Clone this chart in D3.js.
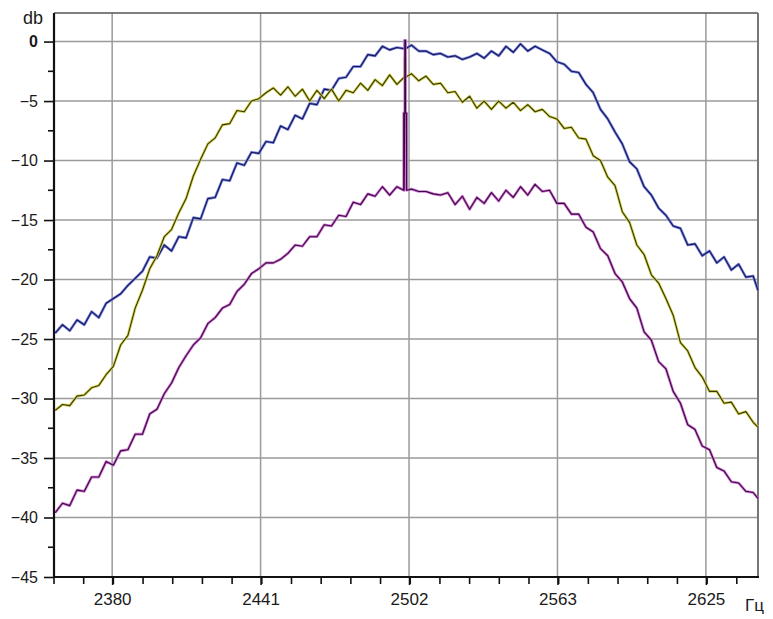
<!DOCTYPE html>
<html>
<head>
<meta charset="utf-8">
<script src="https://cdn.jsdelivr.net/npm/d3@7"></script>
<style>
  body { margin: 0; background: #fff; }
  svg { display: block; font-family: "Liberation Sans", Arial, sans-serif; }
</style>
</head>
<body>
<svg></svg>
<script>
// spectrum, three traces (db vs Hz)

// frequency grid of the traces (Hz)
var freqs = [2356, 2359, 2362, 2365, 2368, 2371, 2374, 2377, 2380, 2383, 2386, 2389, 2392, 2395, 2398,
  2401, 2404, 2407, 2410, 2413, 2416, 2419, 2422, 2425, 2428, 2431, 2434, 2437, 2440, 2443, 2446, 2449,
  2452, 2455, 2458, 2461, 2464, 2467, 2470, 2473, 2476, 2479, 2482, 2485, 2488, 2491, 2494, 2497, 2500,
  2503, 2506, 2509, 2512, 2515, 2518, 2521, 2524, 2527, 2530, 2533, 2536, 2539, 2542, 2545, 2548, 2551,
  2554, 2557, 2560, 2563, 2566, 2569, 2572, 2575, 2578, 2581, 2584, 2587, 2590, 2593, 2596, 2599, 2602,
  2605, 2608, 2611, 2614, 2617, 2620, 2623, 2626, 2629, 2632, 2635, 2638, 2641, 2644, 2646];

var blueDb = [-24.5, -23.8, -24.3, -23.4, -23.8, -22.7, -23.2, -22.0, -21.6, -21.2, -20.5, -19.9, -19.3, -18.1, -18.2,
  -17.1, -17.6, -16.4, -16.5, -14.8, -14.9, -13.2, -13.1, -11.6, -11.7, -10.2, -10.4, -9.3, -9.4, -8.4, -8.5, -7.1,
  -7.4, -6.2, -6.5, -5.2, -5.3, -4.0, -4.1, -3.1, -3.0, -2.1, -2.1, -1.1, -1.2, -0.4, -0.7, -0.5, -0.6,
  -0.3, -0.8, -0.8, -1.1, -1.0, -1.3, -1.2, -1.5, -1.3, -1.0, -1.4, -0.8, -1.2, -0.4, -0.9, -0.2, -0.8,
  -0.4, -0.7, -1.0, -1.7, -1.9, -2.5, -2.6, -3.6, -4.3, -5.7, -6.5, -7.6, -8.6, -10.1, -10.7, -12.2, -12.9,
  -14.0, -14.6, -15.5, -15.7, -17.1, -17.0, -18.0, -17.6, -18.6, -18.1, -19.2, -18.7, -19.8, -19.7, -20.9];

var oliveDb = [-31.0, -30.5, -30.6, -29.8, -29.7, -29.1, -28.9, -28.0, -27.3, -25.5, -24.7, -22.4, -20.9, -19.1, -18.0,
  -16.4, -15.8, -14.4, -13.2, -11.3, -9.9, -8.6, -8.1, -7.0, -6.9, -5.8, -5.9, -5.0, -4.8, -4.3, -3.9, -4.5,
  -3.8, -4.6, -4.0, -5.0, -4.1, -4.8, -4.0, -5.0, -4.1, -4.3, -3.5, -4.1, -3.2, -3.7, -2.8, -3.6, -3.0,
  -2.7, -3.3, -2.9, -3.6, -3.5, -4.3, -4.2, -5.1, -4.6, -5.6, -5.0, -5.7, -5.0, -5.6, -5.1, -5.8, -5.3,
  -5.9, -5.7, -6.3, -6.5, -7.3, -7.2, -8.1, -8.2, -9.6, -10.0, -11.4, -12.1, -14.3, -15.2, -17.1, -17.9, -19.6,
  -20.3, -21.6, -23.0, -25.3, -26.0, -27.4, -28.2, -29.4, -29.4, -30.4, -30.3, -31.3, -31.1, -32.0, -32.4];

var purpleDb = [-39.6, -38.8, -39.0, -37.7, -37.8, -36.6, -36.6, -35.3, -35.6, -34.4, -34.3, -33.0, -33.0, -31.3, -30.9,
  -29.6, -28.7, -27.4, -26.4, -25.5, -24.9, -23.7, -23.2, -22.4, -22.1, -21.0, -20.4, -19.5, -19.1, -18.6, -18.6, -18.3,
  -17.8, -17.1, -17.2, -16.4, -16.4, -15.4, -15.5, -14.6, -14.7, -13.5, -13.7, -12.8, -13.0, -12.2, -12.9, -12.2, -12.5,
  -12.4, -12.6, -12.6, -12.8, -12.9, -12.7, -13.7, -13.0, -14.1, -13.1, -13.6, -12.7, -13.4, -12.5, -13.1, -12.2, -12.9,
  -12.0, -12.6, -12.5, -13.6, -13.6, -14.5, -14.5, -15.6, -16.0, -17.4, -18.0, -19.5, -20.2, -21.6, -22.4, -24.4, -25.1,
  -26.9, -27.5, -29.4, -30.4, -32.2, -32.6, -34.0, -34.3, -35.8, -36.1, -37.0, -37.1, -37.8, -37.9, -38.4];

// carrier spike (Hz): top of the wide part and of the thin needle, per trace (blue, olive, purple)
var carrierHz = 2500.4;
var spikePeak = [0.1, -1.4, -6.0];
var needleTop = [0.1, -1.4, 0.1];

// axis ticks
var xTickValues = [2379.5, 2440.75, 2502, 2563.25, 2624.5];
var xTickLabels = ['2380', '2441', '2502', '2563', '2625'];
var yTickValues = [0, -5, -10, -15, -20, -25, -30, -35, -40, -45];

var margin = { top: 13, right: 15, bottom: 42, left: 54 };
var width = 773 - margin.left - margin.right,
    height = 619 - margin.top - margin.bottom;

var svg = d3.select('svg')
    .attr('width', width + margin.left + margin.right)
    .attr('height', height + margin.top + margin.bottom)
  .append('g')
    .attr('transform', 'translate(' + margin.left + ',' + margin.top + ')');

var x = d3.scaleLinear().domain([2355.5, 2646]).range([0, width]);
var y = d3.scaleLinear().domain([-45, 2.4]).range([height, 0]);

// grid
svg.append('g').selectAll('line')
    .data(yTickValues.slice(0, -1))
  .enter().append('line')
    .attr('x1', 0).attr('x2', width)
    .attr('y1', function(d) { return y(d); })
    .attr('y2', function(d) { return y(d); })
    .attr('stroke', '#9a9a9a')
    .attr('stroke-width', 1.5);

svg.append('g').selectAll('line')
    .data(xTickValues)
  .enter().append('line')
    .attr('x1', function(d) { return x(d); })
    .attr('x2', function(d) { return x(d); })
    .attr('y1', 0).attr('y2', height)
    .attr('stroke', '#9a9a9a')
    .attr('stroke-width', 1.5);

// frame top and right
svg.append('line').attr('x1', 0).attr('x2', width).attr('y1', 0).attr('y2', 0)
    .attr('stroke', '#555').attr('stroke-width', 1.6);
svg.append('line').attr('x1', width).attr('x2', width).attr('y1', 0).attr('y2', height)
    .attr('stroke', '#777').attr('stroke-width', 2);

// traces
var traces = [
  { values: blueDb, halo: '#7480e4', core: '#16164e', half: 0.2 },
  { values: oliveDb, halo: '#d4d24e', core: '#38380a', half: 0.2 },
  { values: purpleDb, halo: '#d272d6', core: '#360a3c', half: 0.6 }
];

var line = d3.line()
    .x(function(d) { return x(d[0]); })
    .y(function(d) { return y(d[1]); });

traces.forEach(function(t, i) {
  var pts = freqs.map(function(f, j) { return [f, t.values[j]]; });
  var base = t.values[freqs.indexOf(2500)];
  var spike = [[carrierHz - t.half, base], [carrierHz - t.half + 0.01, spikePeak[i]]];
  if (needleTop[i] > spikePeak[i]) {
    spike.push([carrierHz - 0.15, spikePeak[i]], [carrierHz - 0.14, needleTop[i]],
               [carrierHz + 0.14, needleTop[i]], [carrierHz + 0.15, spikePeak[i]]);
  }
  spike.push([carrierHz + t.half - 0.01, spikePeak[i]], [carrierHz + t.half, base]);
  pts = pts.concat(spike).sort(function(a, b) { return a[0] - b[0]; });

  svg.append('path').datum(pts)
      .attr('fill', 'none')
      .attr('stroke', t.halo)
      .attr('stroke-width', 2.7)
      .attr('stroke-linejoin', 'round')
      .attr('d', line);
  svg.append('path').datum(pts)
      .attr('fill', 'none')
      .attr('stroke', t.core)
      .attr('stroke-width', 1.1)
      .attr('stroke-linejoin', 'round')
      .attr('d', line);
});

// y axis
var yAxis = d3.axisLeft(y).tickValues(yTickValues).tickSize(10).tickPadding(6);
var gy = svg.append('g').attr('class', 'y axis').call(yAxis);
gy.select('.domain').remove();
gy.selectAll('line').attr('stroke', '#111').attr('stroke-width', 1.6);
gy.selectAll('text')
    .style('font-size', '16px')
    .style('font-weight', function(d) { return d === 0 ? 'bold' : 'normal'; })
    .attr('fill', '#1a1a1a');

// minor y ticks
svg.append('g').selectAll('line')
    .data(d3.range(-42.5, 0, 5))
  .enter().append('line')
    .attr('x1', -6).attr('x2', 0)
    .attr('y1', function(d) { return y(d); })
    .attr('y2', function(d) { return y(d); })
    .attr('stroke', '#111').attr('stroke-width', 1.6);

// x axis
var xAxis = d3.axisBottom(x).tickValues(xTickValues)
    .tickFormat(function(d, i) { return xTickLabels[i]; })
    .tickSize(8).tickPadding(8);
var gx = svg.append('g').attr('class', 'x axis')
    .attr('transform', 'translate(0,' + height + ')')
    .call(xAxis);
gx.select('.domain').remove();
gx.selectAll('line').attr('stroke', '#111').attr('stroke-width', 1.6);
gx.selectAll('text').style('font-size', '17px').attr('fill', '#1a1a1a');

svg.append('g').attr('transform', 'translate(0,' + height + ')')
  .selectAll('line')
    .data(d3.range(2355.5, 2646, 12.25))
  .enter().append('line')
    .attr('x1', function(d) { return x(d); })
    .attr('x2', function(d) { return x(d); })
    .attr('y1', 0).attr('y2', 7)
    .attr('stroke', '#111').attr('stroke-width', 1.6);

// axis lines
svg.append('line').attr('x1', 0).attr('x2', 0).attr('y1', 0).attr('y2', height + 1)
    .attr('stroke', '#111').attr('stroke-width', 2.2);
svg.append('line').attr('x1', -1).attr('x2', width + 1).attr('y1', height).attr('y2', height)
    .attr('stroke', '#111').attr('stroke-width', 2.2);

// units
svg.append('text')
    .attr('x', -11).attr('y', 11)
    .attr('text-anchor', 'end')
    .style('font-size', '18px')
    .attr('fill', '#1a1a1a')
    .text('db');

svg.append('text')
    .attr('x', width - 13).attr('y', height + 34)
    .style('font-size', '17px')
    .attr('fill', '#1a1a1a')
    .text('Гц');
</script>
</body>
</html>
